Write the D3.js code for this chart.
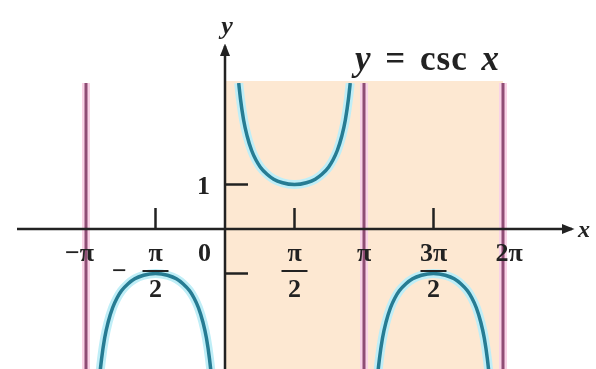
<!DOCTYPE html>
<html>
<head>
<meta charset="utf-8">
<script src="https://cdn.jsdelivr.net/npm/d3@7"></script>
<style>
  body { margin: 0; background: #fff; }
  svg { display: block; }
  text { font-family: "Liberation Serif", "DejaVu Serif", serif; font-weight: bold; fill: #222; }
</style>
</head>
<body>
<svg id="chart"></svg>
<script>
// values (x in radians)
var asymptotes = [-Math.PI, Math.PI, 2 * Math.PI];
var xTickValues = [-Math.PI / 2, Math.PI / 2, 3 * Math.PI / 2];
var yTickValues = [1, -1];
var yTickLabels = ["1", ""];

var xLabelValues = [-Math.PI, -Math.PI / 2, 0, Math.PI / 2, Math.PI, 3 * Math.PI / 2, 2 * Math.PI];
var xLabelTop = ["−π", "π", "0", "π", "π", "3π", "2π"];
var xLabelBottom = ["", "2", "", "2", "", "2", ""];
var xLabelSign = ["", "−", "", "", "", "", ""];

// branch on (-π, 0)
var branchLeft = [
  [-2.85, -3.49], [-2.83, -3.28], [-2.79, -2.92], [-2.72, -2.45], [-2.64, -2.09], [-2.54, -1.77],
  [-2.44, -1.55], [-2.34, -1.39], [-2.19, -1.23], [-2.04, -1.12], [-1.84, -1.04], [-1.57, -1.00],
  [-1.30, -1.04], [-1.10, -1.12], [-0.95, -1.23], [-0.80, -1.39], [-0.70, -1.55], [-0.60, -1.77],
  [-0.50, -2.09], [-0.42, -2.45], [-0.35, -2.92], [-0.31, -3.28], [-0.29, -3.49]
];
// branch on (0, π)
var branchMid = [
  [0.31, 3.28], [0.35, 2.92], [0.42, 2.45], [0.50, 2.09], [0.60, 1.77], [0.70, 1.55],
  [0.80, 1.39], [0.95, 1.23], [1.10, 1.12], [1.30, 1.04], [1.57, 1.00], [1.84, 1.04],
  [2.04, 1.12], [2.19, 1.23], [2.34, 1.39], [2.44, 1.55], [2.54, 1.77], [2.64, 2.09],
  [2.72, 2.45], [2.79, 2.92], [2.83, 3.28]
];
// branch on (π, 2π)
var branchRight = [
  [3.43, -3.49], [3.45, -3.28], [3.49, -2.92], [3.56, -2.45], [3.64, -2.09], [3.74, -1.77],
  [3.84, -1.55], [3.94, -1.39], [4.09, -1.23], [4.24, -1.12], [4.44, -1.04], [4.71, -1.00],
  [4.98, -1.04], [5.18, -1.12], [5.33, -1.23], [5.48, -1.39], [5.58, -1.55], [5.68, -1.77],
  [5.78, -2.09], [5.86, -2.45], [5.93, -2.92], [5.97, -3.28], [5.99, -3.49]
];

var dims = { width: 596, height: 369, top: 83 };

var svg = d3.select("#chart")
  .attr("width", dims.width)
  .attr("height", dims.height);

var defs = svg.append("defs");
defs.append("filter").attr("id", "soft")
  .append("feGaussianBlur").attr("stdDeviation", 0.6);
defs.append("clipPath").attr("id", "plotClip")
  .append("rect")
  .attr("x", 0).attr("y", dims.top)
  .attr("width", dims.width).attr("height", dims.height - dims.top);
var arrow = defs.append("marker").attr("id", "arrow")
  .attr("viewBox", "0 0 10 10").attr("refX", 8).attr("refY", 5)
  .attr("markerWidth", 5).attr("markerHeight", 5)
  .attr("orient", "auto-start-reverse");
arrow.append("path").attr("d", "M0,1 L10,5 L0,9 Z").attr("fill", "#222");

var xScale = d3.scaleLinear()
  .domain([-Math.PI, 2 * Math.PI])
  .range([86, 503]);
var yScale = d3.scaleLinear()
  .domain([-1, 1])
  .range([273.5, 184.5]);

var g = svg.append("g").attr("filter", "url(#soft)");

// shaded period [0, 2π]
g.append("rect")
  .attr("x", xScale(0))
  .attr("y", dims.top - 2)
  .attr("width", xScale(2 * Math.PI) - xScale(0))
  .attr("height", dims.height - dims.top + 2)
  .attr("fill", "#fde8d2");

// asymptotes
var asym = g.append("g");
asym.selectAll(".halo")
  .data(asymptotes).enter().append("line")
  .attr("x1", d => xScale(d)).attr("x2", d => xScale(d))
  .attr("y1", dims.top).attr("y2", dims.height)
  .attr("stroke", "#f9d3e7").attr("stroke-width", 8);
asym.selectAll(".asym")
  .data(asymptotes).enter().append("line")
  .attr("x1", d => xScale(d)).attr("x2", d => xScale(d))
  .attr("y1", dims.top).attr("y2", dims.height)
  .attr("stroke", "#8f4d74").attr("stroke-width", 3);

// curve
var line = d3.line()
  .x(d => xScale(d[0]))
  .y(d => yScale(d[1]))
  .curve(d3.curveMonotoneX);
var curves = g.append("g").attr("clip-path", "url(#plotClip)");
[branchLeft, branchMid, branchRight].forEach(b => {
  curves.append("path").attr("d", line(b))
    .attr("fill", "none").attr("stroke", "#bfeef7").attr("stroke-width", 9);
});
[branchLeft, branchMid, branchRight].forEach(b => {
  curves.append("path").attr("d", line(b))
    .attr("fill", "none").attr("stroke", "#267b93").attr("stroke-width", 3.5);
});

// axes
g.append("line")
  .attr("x1", 17).attr("x2", 572)
  .attr("y1", yScale(0)).attr("y2", yScale(0))
  .attr("stroke", "#222").attr("stroke-width", 2.5)
  .attr("marker-end", "url(#arrow)");
g.append("line")
  .attr("x1", xScale(0)).attr("x2", xScale(0))
  .attr("y1", dims.height).attr("y2", 46)
  .attr("stroke", "#222").attr("stroke-width", 2.5)
  .attr("marker-end", "url(#arrow)");

// ticks
g.selectAll(".xtick")
  .data(xTickValues).enter().append("line")
  .attr("x1", d => xScale(d)).attr("x2", d => xScale(d))
  .attr("y1", yScale(0)).attr("y2", yScale(0) - 21)
  .attr("stroke", "#222").attr("stroke-width", 2.5);
g.selectAll(".ytick")
  .data(yTickValues).enter().append("line")
  .attr("x1", xScale(0)).attr("x2", xScale(0) + 23)
  .attr("y1", d => yScale(d)).attr("y2", d => yScale(d))
  .attr("stroke", "#222").attr("stroke-width", 2.5);

// x labels
var labels = g.append("g").style("font-size", "26px");
xLabelValues.forEach((v, i) => {
  var x = xScale(v);
  var anchor = "middle";
  if (i === 0) { anchor = "end"; x += 8; }
  if (i === 2) { anchor = "end"; x -= 14; }
  if (i === 6) { x += 6; }
  labels.append("text")
    .attr("x", x).attr("y", yScale(0) + 32)
    .attr("text-anchor", anchor)
    .text(xLabelTop[i]);
  if (xLabelBottom[i]) {
    labels.append("line")
      .attr("x1", xScale(v) - 13).attr("x2", xScale(v) + 13)
      .attr("y1", yScale(0) + 42).attr("y2", yScale(0) + 42)
      .attr("stroke", "#222").attr("stroke-width", 2);
    labels.append("text")
      .attr("x", xScale(v)).attr("y", yScale(0) + 68)
      .attr("text-anchor", "middle")
      .text(xLabelBottom[i]);
  }
  if (xLabelSign[i]) {
    labels.append("text")
      .attr("x", xScale(v) - 36).attr("y", yScale(0) + 50)
      .attr("text-anchor", "middle")
      .text(xLabelSign[i]);
  }
});

// y labels
labels.selectAll(".ylabel")
  .data(yTickValues).enter().append("text")
  .attr("x", xScale(0) - 15).attr("y", d => yScale(d) + 9)
  .attr("text-anchor", "end")
  .text((d, i) => yTickLabels[i]);

// axis names and title
g.append("text")
  .attr("x", xScale(0) + 2).attr("y", 34)
  .attr("text-anchor", "middle")
  .style("font-size", "26px").style("font-style", "italic")
  .text("y");
g.append("text")
  .attr("x", 578).attr("y", yScale(0) + 8)
  .style("font-size", "24px").style("font-style", "italic")
  .text("x");
var title = g.append("text")
  .attr("x", 355).attr("y", 70)
  .style("font-size", "35px")
  .style("letter-spacing", "1px")
  .style("word-spacing", "4px");
title.append("tspan").style("font-style", "italic").text("y");
title.append("tspan").text(" = csc ");
title.append("tspan").style("font-style", "italic").text("x");
</script>
</body>
</html>
